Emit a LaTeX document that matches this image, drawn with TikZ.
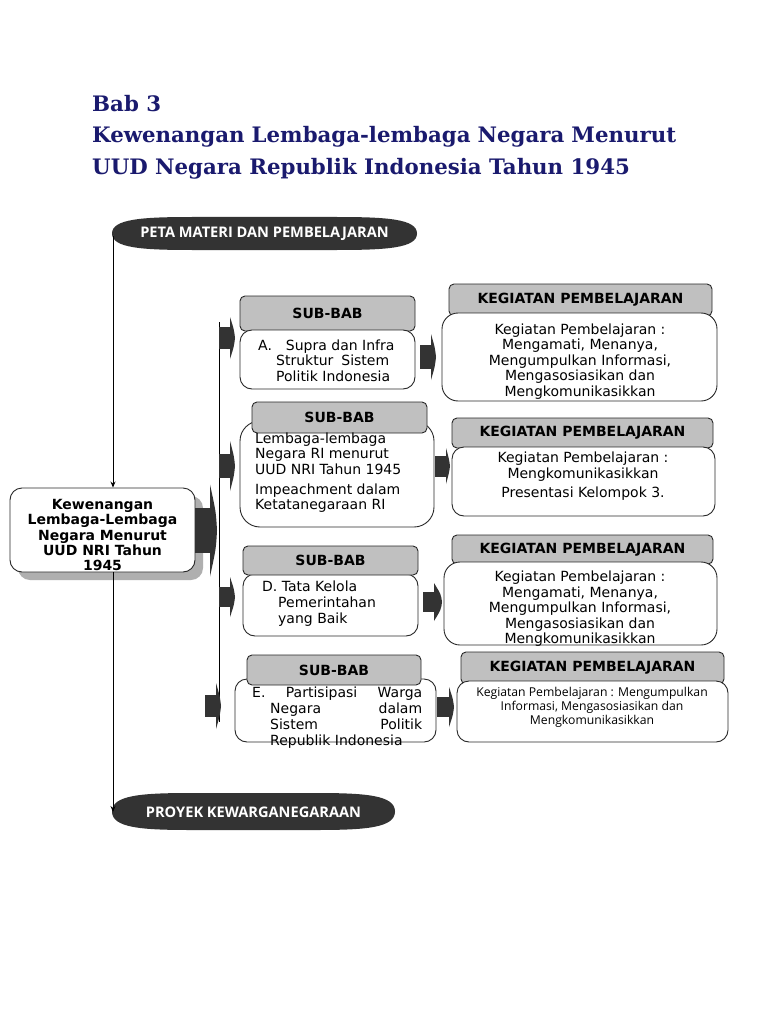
\documentclass[tikz,border=0pt]{standalone}
\usepackage{fontspec}
\setmainfont{DejaVu Sans}
\newfontfamily\titlefont{DejaVu Serif}
\newfontfamily\bannerfont{Open Sans}
\newfontfamily\smallfont{Open Sans}
\usetikzlibrary{arrows.meta}
\definecolor{navy}{RGB}{26,26,110}
\definecolor{hdrgray}{RGB}{192,192,192}
\definecolor{darkfill}{RGB}{51,51,51}
\definecolor{edgecol}{RGB}{40,40,40}
\definecolor{shadowgray}{RGB}{175,175,175}
\newcommand{\blkarr}[6]{%
  \fill[darkfill] ({#1},{#4-#5}) rectangle ({#2},{#4+#5});
  \fill[darkfill] ({#2-1},{#4-#6}) .. controls ({#3-1},{#4-0.4*#6}) .. ({#3},{#4}) .. controls ({#3-1},{#4+0.4*#6}) .. ({#2-1},{#4+#6}) -- cycle;}
\newcommand{\bannershape}[4]{%
  \fill[darkfill] ({#1},{(#3+#4)/2}) .. controls ({#1},{#3+2}) and ({#1+30},{#3}) .. ({#1+80},{#3}) -- ({#2-80},{#3})
    .. controls ({#2-30},{#3}) and ({#2},{#3+2}) .. ({#2},{(#3+#4)/2})
    .. controls ({#2},{#4-2}) and ({#2-30},{#4}) .. ({#2-80},{#4}) -- ({#1+80},{#4})
    .. controls ({#1+30},{#4}) and ({#1},{#4-2}) .. cycle;}
\begin{document}
\begin{tikzpicture}[x=1pt,y=-1pt,
  hdr/.style={draw=edgecol, line width=0.9pt, fill=hdrgray, rounded corners=5pt, inner sep=0pt,
    font=\bfseries\fontsize{14}{16}\selectfont},
  bodyb/.style={draw=edgecol, line width=0.9pt, fill=white, rounded corners=12pt, inner sep=0pt},
  txt/.style={inner sep=0pt, font=\fontsize{14}{15.5}\selectfont},
  ctxt/.style={txt, align=center},
  ltxt/.style={txt, align=left, anchor=north west},
  bannertxt/.style={inner sep=0pt, text=white, font=\bannerfont\bfseries\fontsize{14.6}{16}\selectfont},
  titletxt/.style={inner sep=0pt, anchor=base west, text=navy, font=\titlefont\bfseries\fontsize{21.3}{25}\selectfont},
  conn/.style={draw=black, line width=0.8pt, -{Stealth[length=6pt,width=5pt]}}
]
\useasboundingbox (0,0) rectangle (768,1024);
\fill[white] (0,0) rectangle (768,1024);

% title
\node[titletxt] (t1) at (92,112) {Bab 3};
\node[titletxt] (t2) at (92,143) {\makebox[584pt][s]{Kewenangan Lembaga-lembaga Negara Menurut}};
\node[titletxt] (t3) at (92,175) {UUD Negara Republik Indonesia Tahun 1945};

% banners
\bannershape{112}{417}{217}{250}
\node[bannertxt] (peta) at (264.5,234) {PETA MATERI DAN PEMBELAJARAN};
\coordinate (petaL) at (113,236);
\bannershape{112}{395}{793}{830}
\node[bannertxt] (proyek) at (253.5,812) {PROYEK KEWARGANEGARAAN};
\coordinate (proyekL) at (113,812);

% left box
\fill[shadowgray, rounded corners=12pt] (18,496) rectangle (203,580);
\node[bodyb, minimum width=185pt, minimum height=84pt] (kbox) at (102.5,530) {};
\node[inner sep=0pt, align=center, font=\bfseries\fontsize{14}{15.2}\selectfont] (ktext) at (102.5,535)
  {Kewenangan\\Lembaga-Lembaga\\Negara Menurut\\UUD NRI Tahun\\1945};
\draw[conn] (petaL) -- (kbox.north -| petaL);
\draw[conn] (kbox.south -| petaL) -- (proyekL);

% big block arrow
\blkarr{195}{211}{217}{530.5}{22.5}{46}

% right vertical line
\coordinate (vt) at (219,322);
\coordinate (vb) at (219,722);
\draw[line width=0.8pt] (vt) -- (vb);

% small block arrows
\blkarr{219}{231}{235}{338}{11}{21}
\blkarr{219}{231}{235}{466}{12}{25}
\blkarr{219}{231}{235}{597}{10}{20}
\blkarr{205}{217}{221}{706}{11}{23}

\blkarr{420}{432}{436}{357}{12}{23}
\blkarr{435}{447}{450}{466}{10.5}{18}
\blkarr{423}{435}{442}{602}{10}{19}
\blkarr{437}{450}{454}{707}{10}{20}

% sub-bab 1
\node[hdr, minimum width=175pt, minimum height=35pt] (s1h) at (327.5,313.5) {SUB-BAB};
\node[bodyb, minimum width=175pt, minimum height=59pt] (s1b) at (327.5,359.5) {};
\node[ltxt] (s1t) at (258,339.5) {A.\hspace{14pt}Supra dan Infra\\\hspace*{18pt}\makebox[113pt][s]{Struktur Sistem}\\\hspace*{18pt}Politik Indonesia};

% sub-bab 2
\node[bodyb, rounded corners=20pt, minimum width=194pt, minimum height=106pt] (s2b) at (337,474) {};
\node[hdr, minimum width=175pt, minimum height=31pt] (s2h) at (339.5,417.5) {SUB-BAB};
\node[ltxt] (s2t) at (255,432.5) {Lembaga-lembaga\\Negara RI menurut\\UUD NRI Tahun 1945\\[4.5pt]Impeachment dalam\\Ketatanegaraan RI};

% sub-bab 3
\node[bodyb, minimum width=175pt, minimum height=62pt] (s3b) at (330.5,605) {};
\node[hdr, minimum width=175pt, minimum height=29pt] (s3h) at (330.5,560.5) {SUB-BAB};
\node[ltxt, font=\fontsize{14}{16}\selectfont] (s3t) at (262,580.5) {D. Tata Kelola\\\hspace*{16pt}Pemerintahan\\\hspace*{16pt}yang Baik};

% sub-bab 4
\node[bodyb, minimum width=201pt, minimum height=63pt] (s4b) at (335.5,710.5) {};
\node[hdr, minimum width=174pt, minimum height=30pt] (s4h) at (334,670) {SUB-BAB};
\node[ltxt, font=\fontsize{14}{16}\selectfont] (s4t) at (252,686.5) {\makebox[170pt][s]{E. Partisipasi Warga}\\\hspace*{18pt}\makebox[152pt][s]{Negara dalam}\\\hspace*{18pt}\makebox[152pt][s]{Sistem Politik}\\\hspace*{18pt}Republik Indonesia};

% kegiatan 1
\node[hdr, minimum width=263pt, minimum height=32pt] (k1h) at (580.5,300) {KEGIATAN PEMBELAJARAN};
\node[bodyb, rounded corners=16pt, minimum width=275pt, minimum height=88pt] (k1b) at (579.5,357) {};
\node[ctxt] (k1t) at (580,361.5) {Kegiatan Pembelajaran :\\Mengamati, Menanya,\\Mengumpulkan Informasi,\\Mengasosiasikan dan\\Mengkomunikasikkan};

% kegiatan 2
\node[hdr, minimum width=261pt, minimum height=30pt] (k2h) at (582.5,433) {KEGIATAN PEMBELAJARAN};
\node[bodyb, minimum width=263pt, minimum height=69pt] (k2b) at (583.5,481.5) {};
\node[ctxt] (k2t) at (583,476) {Kegiatan Pembelajaran :\\Mengkomunikasikkan\\[3.5pt]Presentasi Kelompok 3.};

% kegiatan 3
\node[hdr, minimum width=261pt, minimum height=29pt] (k3h) at (582.5,549.5) {KEGIATAN PEMBELAJARAN};
\node[bodyb, rounded corners=16pt, minimum width=273pt, minimum height=83pt] (k3b) at (580.5,603.5) {};
\node[ctxt] (k3t) at (580,609) {Kegiatan Pembelajaran :\\Mengamati, Menanya,\\Mengumpulkan Informasi,\\Mengasosiasikan dan\\Mengkomunikasikkan};

% kegiatan 4
\node[hdr, minimum width=263pt, minimum height=32pt] (k4h) at (592.5,668) {KEGIATAN PEMBELAJARAN};
\node[bodyb, minimum width=271pt, minimum height=61pt] (k4b) at (592.5,711.5) {};
\node[inner sep=0pt, align=center, font=\smallfont\fontsize{12.2}{14}\selectfont] (k4t) at (592,707.5) {Kegiatan Pembelajaran : Mengumpulkan\\Informasi, Mengasosiasikan dan\\Mengkomunikasikkan};

\end{tikzpicture}
\end{document}
